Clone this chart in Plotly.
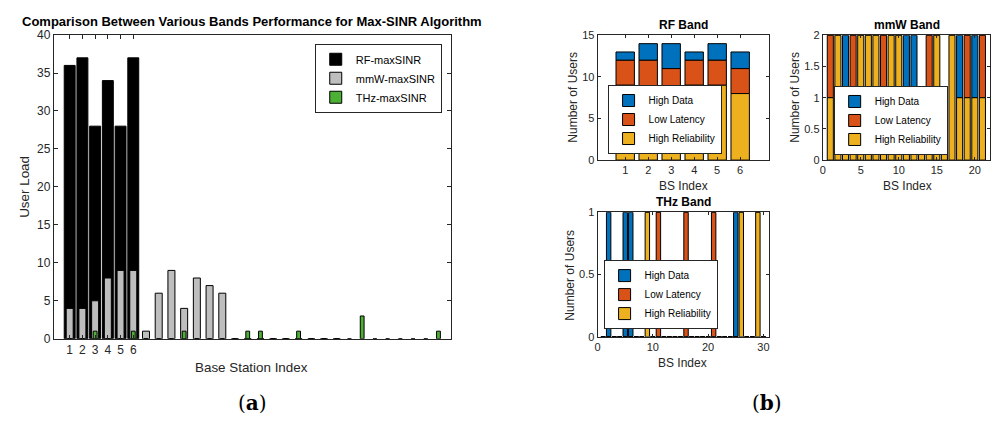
import plotly.graph_objects as go

W, H = 999, 427

# ---------------- Panel (a): user load per base station ----------------
bs_rf = [1, 2, 3, 4, 5, 6]
rf_load = [36, 37, 28, 34, 28, 37]
bs_mmw = list(range(1, 23))
mmw_load = [4, 4, 5, 8, 9, 9, 1, 6, 9, 4, 8, 7, 6, 0, 0, 0, 0, 0, 0, 0, 0, 0]
bs_thz = list(range(1, 31))
thz_load = [0, 0, 1, 0, 0, 1, 0, 0, 0, 1, 0, 0, 0, 0, 1, 1, 0, 0, 1, 0,
            0, 0, 0, 3, 0, 0, 0, 0, 0, 1]

# ---------------- Panel (b): users per service type ----------------
rf_idx = [1, 2, 3, 4, 5, 6]
rf_hd = [1, 2, 3, 1, 2, 2]
rf_ll = [3, 4, 3, 3, 3, 3]
rf_hr = [9, 8, 8, 9, 9, 8]

mmw_idx = list(range(1, 22))
mmw_hd = [0, 0, 1, 0, 0, 0, 0, 0, 0, 0, 1, 1, 0, 0, 0, 0, 0, 1, 0, 1, 0]
mmw_ll = [1, 0, 0, 1, 0, 0, 0, 1, 0, 0, 0, 0, 0, 1, 0, 0, 0, 0, 1, 0, 1]
mmw_hr = [1, 2, 1, 1, 2, 2, 2, 1, 2, 2, 1, 1, 1, 1, 2, 1, 2, 1, 1, 1, 1]

thz_idx = list(range(1, 31))
thz_hd = [0, 1, 0, 0, 1, 1, 0, 0, 0, 0, 0, 0, 0, 0, 0, 0, 0, 0, 0, 0,
          0, 0, 0, 0, 1, 0, 0, 0, 0, 0]
thz_ll = [0, 0, 0, 0, 0, 0, 0, 0, 0, 0, 1, 0, 0, 0, 0, 1, 0, 0, 0, 0,
          1, 0, 0, 0, 0, 0, 0, 0, 0, 0]
thz_hr = [0, 0, 0, 0, 0, 0, 0, 0, 1, 0, 0, 0, 0, 0, 0, 0, 0, 0, 0, 0,
          0, 0, 0, 0, 0, 1, 0, 0, 1, 0]

series_names = ["High Data", "Low Latency", "High Reliability"]
C_HD, C_LL, C_HR = "#0072BD", "#D95319", "#EDB120"

FONT = "Liberation Sans, Arial, Helvetica, sans-serif"
AXC = "#262626"


def px(x):
    return x / W


def py(y):
    return 1 - y / H


fig = go.Figure()
edge = dict(color="black", width=1)

# Panel (a)
fig.add_trace(go.Bar(x=bs_rf, y=rf_load, width=0.86, name="RF-maxSINR",
                     marker=dict(color="#000000", line=edge), opacity=1,
                     xaxis="x", yaxis="y", legend="legend"))
fig.add_trace(go.Bar(x=bs_mmw, y=mmw_load, width=0.55, name="mmW-maxSINR",
                     marker=dict(color="#BEBEBE", line=edge), opacity=1,
                     xaxis="x", yaxis="y", legend="legend"))
fig.add_trace(go.Bar(x=bs_thz, y=thz_load, width=0.3, name="THz-maxSINR",
                     marker=dict(color="#4CB034", line=edge), opacity=1,
                     xaxis="x", yaxis="y", legend="legend"))


def stacked(idx, hd, ll, hr, xa, ya, leg):
    base_ll = list(hr)
    base_hd = [a + b for a, b in zip(hr, ll)]
    for name, vals, base, col in [
        (series_names[0], hd, base_hd, C_HD),
        (series_names[1], ll, base_ll, C_LL),
        (series_names[2], hr, [0] * len(hr), C_HR),
    ]:
        fig.add_trace(go.Bar(x=idx, y=vals, base=base, width=0.8, name=name,
                             marker=dict(color=col, line=edge), opacity=1,
                             xaxis=xa, yaxis=ya, legend=leg))


stacked(rf_idx, rf_hd, rf_ll, rf_hr, "x2", "y2", "legend2")
stacked(mmw_idx, mmw_hd, mmw_ll, mmw_hr, "x3", "y3", "legend3")
stacked(thz_idx, thz_hd, thz_ll, thz_hr, "x4", "y4", "legend4")


def ax(size, ticklen):
    return dict(showline=True, linecolor=AXC, linewidth=1, mirror="ticks",
                ticks="inside", ticklen=ticklen, tickcolor=AXC, showgrid=False,
                zeroline=False, tickfont=dict(family=FONT, size=size, color=AXC),
                fixedrange=True)


big = ax(12, 4)
small = ax(11, 3)

leg_common = dict(bgcolor="white", bordercolor=AXC, borderwidth=1,
                  font=dict(family=FONT, size=10, color="black"),
                  itemwidth=30, tracegroupgap=0, xanchor="left")

fig.update_layout(
    width=W, height=H, margin=dict(l=0, r=0, t=0, b=0),
    paper_bgcolor="white", plot_bgcolor="white",
    barmode="overlay", showlegend=True,
    xaxis=dict(domain=[px(51), px(450)], range=[-0.25, 31.0],
               tickvals=bs_rf, anchor="y", **big),
    yaxis=dict(domain=[py(343), py(29)], range=[0, 40], dtick=5,
               anchor="x", **big),
    xaxis2=dict(domain=[px(597), px(769)], range=[-0.2, 7.25],
                tickvals=rf_idx, anchor="y2", **small),
    yaxis2=dict(domain=[py(158.3), py(29.3)], range=[0, 15], dtick=5,
                anchor="x2", **small),
    xaxis3=dict(domain=[px(823), px(991)], range=[0, 22], dtick=5, tick0=0,
                anchor="y3", **small),
    yaxis3=dict(domain=[py(158.3), py(29.3)], range=[0, 2], dtick=0.5,
                anchor="x3", **small),
    xaxis4=dict(domain=[px(597), px(769)], range=[0, 31], dtick=10, tick0=0,
                anchor="y4", **small),
    yaxis4=dict(domain=[py(341), py(212.3)], range=[0, 1], dtick=0.5,
                anchor="x4", **small),
    legend=dict(x=px(313), y=py(38), yanchor="top",
                **{**leg_common, "font": dict(family=FONT, size=11, color="black")}),
    legend2=dict(x=px(607), y=py(152), yanchor="bottom", **leg_common),
    legend3=dict(x=px(834), y=py(153), yanchor="bottom", **leg_common),
    legend4=dict(x=px(603), y=py(333), yanchor="bottom", **leg_common),
)

annotations = [
    # titles
    ("<b>Comparison Between Various Bands Performance for Max-SINR Algorithm</b>",
     250, 15, 13, 0, "black"),
    ("<b>RF Band</b>", 683, 19, 12, 0, "black"),
    ("<b>mmW Band</b>", 908, 19, 12, 0, "black"),
    ("<b>THz Band</b>", 683, 202, 12, 0, "black"),
    # axis labels
    ("User Load", 22, 186, 13.4, -90, AXC),
    ("Base Station Index", 250, 373, 13.4, 0, AXC),
    ("Number of Users", 572, 93, 12, -90, AXC),
    ("BS Index", 683, 185, 12, 0, AXC),
    ("Number of Users", 795, 93, 12, -90, AXC),
    ("BS Index", 908, 185, 12, 0, AXC),
    ("Number of Users", 569, 277, 12, -90, AXC),
    ("BS Index", 682, 368, 12, 0, AXC),
]
for text, x, y, size, ang, col in annotations:
    fig.add_annotation(text=text, x=px(x), y=py(y), xref="paper", yref="paper",
                       showarrow=False, textangle=ang, xanchor="center",
                       yanchor="middle",
                       font=dict(family=FONT, size=size, color=col))

for text, x in [("(<b>a</b>)", 251), ("(<b>b</b>)", 767)]:
    fig.add_annotation(text=text, x=px(x), y=py(409), xref="paper", yref="paper",
                       showarrow=False, xanchor="center", yanchor="middle",
                       font=dict(family="DejaVu Serif, Liberation Serif, serif",
                                 size=20, color="black"))

fig.write_html("out.html")
